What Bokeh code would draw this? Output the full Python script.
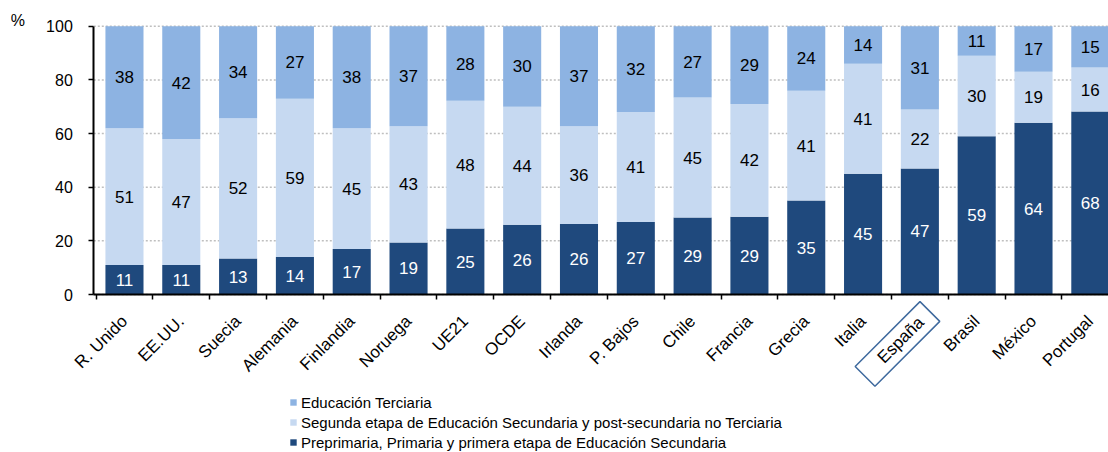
from math import pi
from bokeh.plotting import figure
from bokeh.models import (ColumnDataSource, FixedTicker, LinearAxis, Legend,
                          LegendItem, Label, Range1d)
from bokeh.core.properties import value
from bokeh.embed import file_html
from bokeh.resources import INLINE

# ---------------- data ----------------
paises = ["R. Unido", "EE.UU.", "Suecia", "Alemania", "Finlandia", "Noruega",
          "UE21", "OCDE", "Irlanda", "P. Bajos", "Chile", "Francia", "Grecia",
          "Italia", "España", "Brasil", "México", "Portugal"]
primaria = [11, 11, 13.4, 14, 17, 19.4, 24.6, 26, 26.3, 27, 28.7, 29, 35,
            45, 47, 59, 64, 68.2]
secundaria = [51, 47, 52.3, 59, 45, 43.3, 47.6, 44, 36.4, 41, 44.7, 42, 41,
              41, 22, 30, 19, 16.4]
terciaria = [38, 42, 34.3, 27, 38, 37.3, 27.8, 30, 37.3, 32, 26.6, 29, 24,
             14, 31, 11, 17, 15.4]
y_ticks = [0, 20, 40, 60, 80, 100]
serie_ter = "Educación Terciaria"
serie_sec = "Segunda etapa de Educación Secundaria y post-secundaria no Terciaria"
serie_pri = "Preprimaria, Primaria y primera etapa de Educación Secundaria"
destacado = "España"

C_TER = "#8DB3E2"
C_SEC = "#C6D9F1"
C_PRI = "#1F497D"
FONT = "Liberation Sans"

n = len(paises)
xc = [i + 0.5 for i in range(n)]
b1 = list(primaria)
b2 = [a + b for a, b in zip(primaria, secundaria)]
b3 = [a + b for a, b in zip(b2, terciaria)]

src = ColumnDataSource(dict(
    x=xc, b0=[0] * n, b1=b1, b2=b2, b3=b3,
    m1=[a / 2 for a in b1],
    m2=[(a + b) / 2 for a, b in zip(b1, b2)],
    m3=[(a + b) / 2 for a, b in zip(b2, b3)],
    l1=[str(round(v)) for v in primaria],
    l2=[str(round(v)) for v in secundaria],
    l3=[str(round(v)) for v in terciaria],
))

# whole canvas is the plot frame; axes are pinned at x0 / y=0
X_AXIS = -0.04             # data x where the value axis stands
XR = (-1.682, 17.82)        # visible x range (categories are 1 unit wide)
YR = (-58.9, 109.6)         # visible y range (values 0..100 plus room for labels)

p = figure(width=1108, height=452,
           x_range=Range1d(*XR), y_range=Range1d(*YR),
           output_backend="svg", toolbar_location=None,
           x_axis_location=None, y_axis_location=None,
           min_border=0)
p.outline_line_color = None
p.background_fill_color = "white"
p.grid.visible = False

# dotted gridlines, only over the plotting area
p.segment(x0=[X_AXIS] * len(y_ticks), x1=[XR[1]] * len(y_ticks),
          y0=y_ticks, y1=y_ticks, line_color="#BFBFBF", line_dash="2 2",
          line_width=1.5)

# bars
W = 0.67
r_pri = p.vbar(x="x", bottom="b0", top="b1", width=W, fill_color=C_PRI,
               line_color=None, source=src)
r_sec = p.vbar(x="x", bottom="b1", top="b2", width=W, fill_color=C_SEC,
               line_color=None, source=src)
r_ter = p.vbar(x="x", bottom="b2", top="b3", width=W, fill_color=C_TER,
               line_color=None, source=src)

common = dict(text_align="center", text_baseline="middle",
              text_font=value(FONT), text_font_size="17px", source=src)
p.text(x="x", y="m1", text="l1", text_color="white", **common)
p.text(x="x", y="m2", text="l2", text_color="black", **common)
p.text(x="x", y="m3", text="l3", text_color="black", **common)

# y axis
yax = LinearAxis(fixed_location=X_AXIS, bounds=(0, 100),
                 ticker=FixedTicker(ticks=y_ticks),
                 axis_line_color="black", axis_line_width=2,
                 major_tick_line_color="black", major_tick_line_width=1.5,
                 major_tick_in=0, major_tick_out=5, minor_tick_line_color=None,
                 major_label_standoff=16, major_label_text_font=FONT,
                 major_label_text_font_size="16px",
                 major_label_text_color="black")
p.add_layout(yax, "left")

# x axis 1: line + ticks between categories (no labels)
xax = LinearAxis(fixed_location=0, bounds=(X_AXIS, n),
                 ticker=FixedTicker(ticks=list(range(n + 1))),
                 axis_line_color="black", axis_line_width=2,
                 major_tick_line_color="black", major_tick_line_width=1.5,
                 major_tick_in=0, major_tick_out=5, minor_tick_line_color=None,
                 major_label_text_font_size="0px", major_label_text_color=None,
                 major_label_standoff=0)
p.add_layout(xax, "below")

# x axis 2: category labels
LBL_STANDOFF = 24
overrides = {t: (name if name != destacado else "") for t, name in zip(xc, paises)}
xax2 = LinearAxis(fixed_location=0, ticker=FixedTicker(ticks=xc),
                  major_label_overrides=overrides,
                  major_label_orientation=pi / 4, axis_line_color=None,
                  major_tick_line_color=None, minor_tick_line_color=None,
                  major_tick_in=0, major_tick_out=0,
                  major_label_standoff=LBL_STANDOFF,
                  major_label_text_font=FONT, major_label_text_font_size="17px",
                  major_label_text_color="black")
p.add_layout(xax2, "below")

# "%" unit label
p.add_layout(Label(x=X_AXIS, y=100, text="%", x_offset=-83, y_offset=14,
                   text_align="left", text_baseline="top", text_font=FONT,
                   text_font_size="16px", text_color="black"))

# highlighted España label with box (anchor = right edge of the padded box)
i_dest = paises.index(destacado)
p.add_layout(Label(x=xc[i_dest], y=0, text=destacado, angle=pi / 4,
                   text_align="right", text_baseline="middle",
                   x_offset=10, y_offset=-17, text_font=FONT,
                   text_font_size="17px", text_color="black",
                   border_line_color="#3F6A9E", border_line_width=1.5,
                   padding=dict(left=22, right=12, top=4, bottom=5)))

legend = Legend(items=[LegendItem(label=serie_ter, renderers=[r_ter]),
                       LegendItem(label=serie_sec, renderers=[r_sec]),
                       LegendItem(label=serie_pri, renderers=[r_pri])],
                location=(289, 0), orientation="vertical",
                glyph_width=8, glyph_height=8, label_standoff=4,
                spacing=0, padding=0, margin=0, label_height=20,
                label_text_font=FONT, label_text_font_size="15px",
                label_text_color="black",
                border_line_color=None, background_fill_alpha=0)
p.add_layout(legend, "center")

open("out.html", "w").write(file_html(p, INLINE))
